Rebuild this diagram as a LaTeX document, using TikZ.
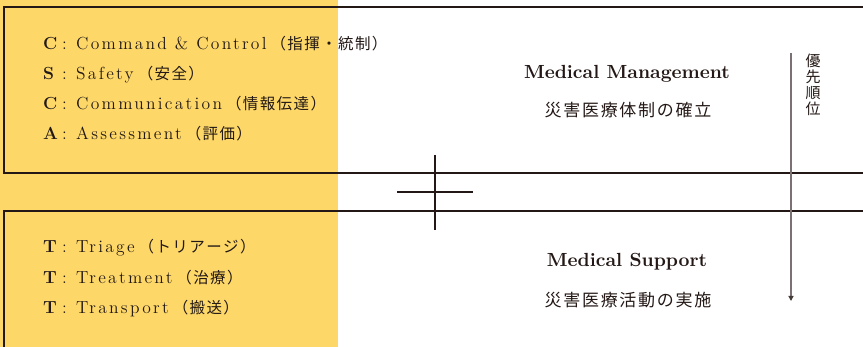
\documentclass[tikz,border=0pt]{standalone}
\usepackage{fontspec}
\usetikzlibrary{arrows.meta}
\setmainfont{lmroman12-regular.otf}[BoldFont=lmroman12-bold.otf]
\newfontfamily\trk{lmroman12-regular.otf}[LetterSpace=13, BoldFont=lmroman12-bold.otf]
\newfontfamily\ttl{lmroman10-bold.otf}
\newfontfamily\jp{Noto Sans CJK JP}[LetterSpace=9, Kerning=Off, RawFeature={-chws;-palt;-halt}]
\newfontfamily\jpw{Noto Sans CJK JP}[LetterSpace=10]
\definecolor{ink}{HTML}{231815}
\definecolor{yel}{HTML}{FDD869}
\definecolor{arrowgray}{HTML}{7A7272}
\newcommand{\rowtxt}[2]{\makebox[19pt][l]{\bfseries #1}\makebox[14pt][l]{:}#2}
\newcommand{\jpp}[1]{\hspace{4pt}{\fontsize{15.5}{18}\selectfont\jp #1}}
\tikzset{
  boxline/.style={draw=ink, line width=1.2pt},
  itemrow/.style={anchor=base west, inner sep=0pt, text=ink, font=\fontsize{17.5}{18}\selectfont\trk},
  title/.style={anchor=base, inner sep=0pt, text=ink, font=\fontsize{19}{22}\selectfont\ttl},
  subtitle/.style={inner sep=0pt, text=ink, font=\fontsize{17}{20}\selectfont\jpw},
  vlabel/.style={inner sep=0pt, text=ink, align=center, font=\fontsize{15}{16}\selectfont\jp},
  prio/.style={draw=arrowgray, line width=1.3pt, -{Triangle[length=5pt,width=5pt,color=ink!85,fill=ink!85]}}
}
\begin{document}
\begin{tikzpicture}[x=1pt,y=-1pt]
\useasboundingbox (0,0) rectangle (863,347);
\fill[yel] (0,0) rectangle (338,347);
% boxes
\draw[boxline] (863,7) -- (4,7) -- (4,173) -- (863,173);
\draw[boxline] (863,211) -- (4,211) -- (4,347);
% cross
\draw[boxline] (435,155) -- (435,230);
\draw[boxline] (397,192) -- (473,192);
% left items (top)
\node[itemrow] (c1) at (43,50) {\rowtxt{C}{Command \& Control\jpp{（指揮・統制）}}};
\node[itemrow] (s1) at (43,80) {\rowtxt{S}{Safety\jpp{（安全）}}};
\node[itemrow] (c2) at (43,110) {\rowtxt{C}{Communication\jpp{（情報伝達）}}};
\node[itemrow] (a1) at (43,140) {\rowtxt{A}{Assessment\jpp{（評価）}}};
% left items (bottom)
\node[itemrow] (t1) at (43,253) {\rowtxt{T}{Triage\jpp{（トリアージ）}}};
\node[itemrow] (t2) at (43,283.5) {\rowtxt{T}{Treatment\jpp{（治療）}}};
\node[itemrow] (t3) at (43,314) {\rowtxt{T}{Transport\jpp{（搬送）}}};
% titles
\node[title] (mm) at (627,79) {Medical Management};
\node[subtitle] (mmj) at (628,110) {災害医療体制の確立};
\node[title] (ms) at (627,267) {Medical Support};
\node[subtitle] (msj) at (628,300) {災害医療活動の実施};
% priority arrow
\coordinate (ptop) at (791,53);
\coordinate (pbot) at (791,301);
\draw[prio] (ptop) -- (pbot);
\node[vlabel] (pl) at (813,85) {優\\先\\順\\位};
\end{tikzpicture}
\end{document}
